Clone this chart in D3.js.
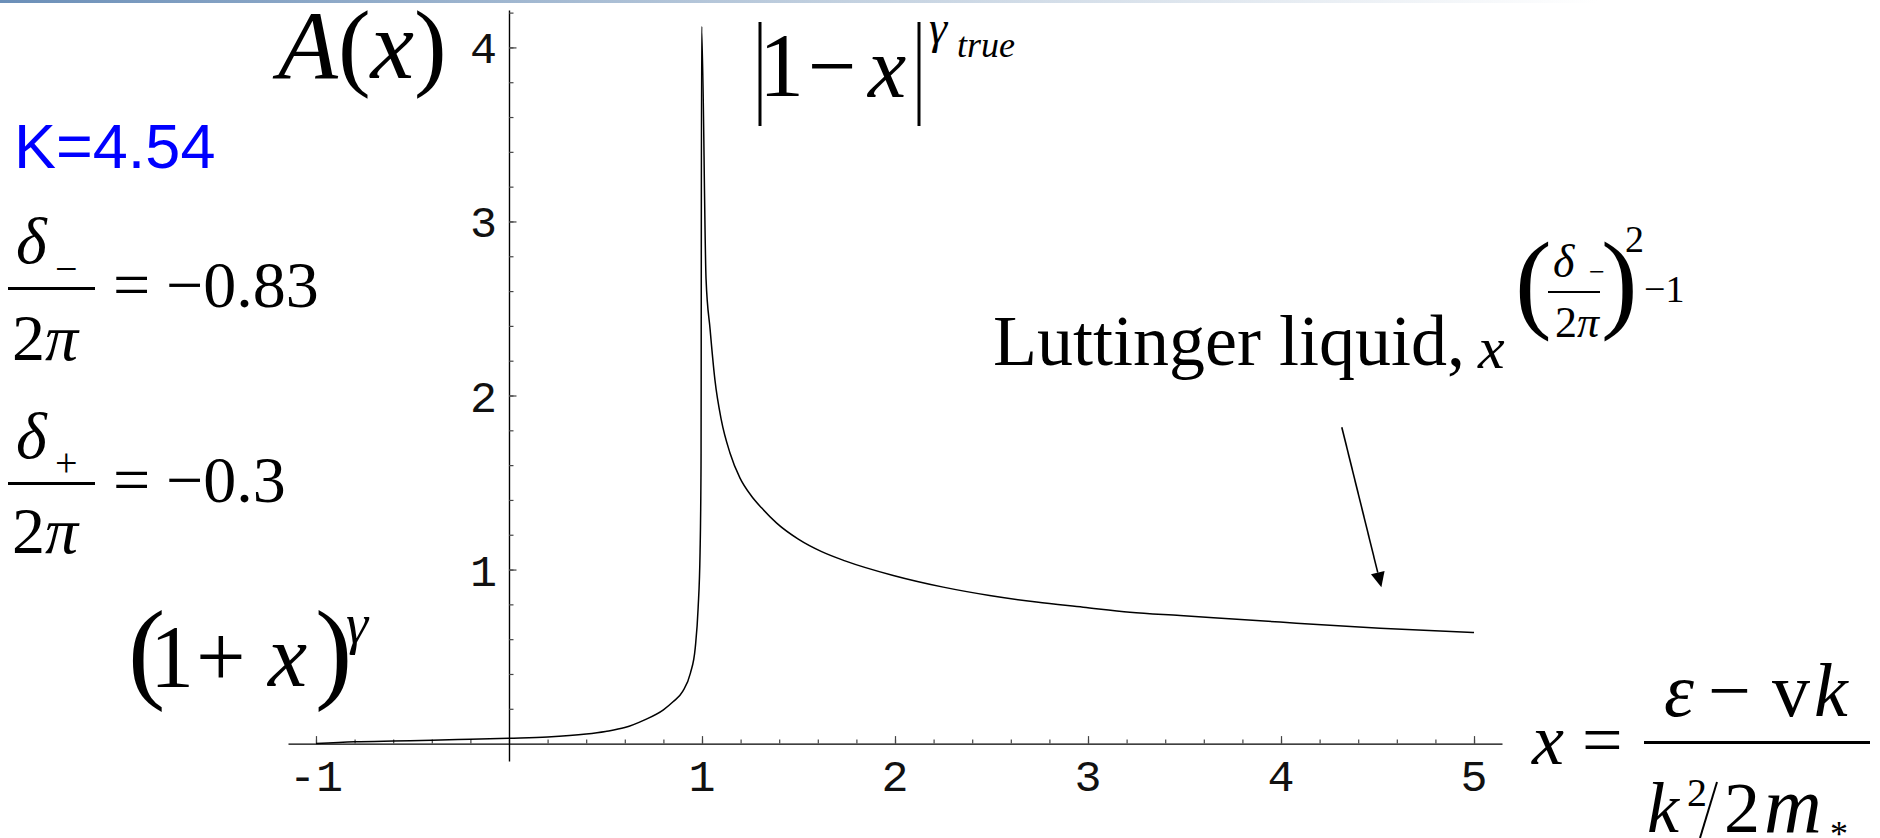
<!DOCTYPE html>
<html>
<head>
<meta charset="utf-8">
<script src="https://cdn.jsdelivr.net/npm/d3@7"></script>
<style>
body { margin: 0; background: #fff; }
svg { display: block; }
.mono { font-family: "Liberation Mono", "DejaVu Sans Mono", monospace; fill: #111; }
.math { font-family: "Liberation Serif", "DejaVu Serif", serif; fill: #000; }
</style>
</head>
<body>
<svg id="chart" width="1880" height="838"></svg>
<script>
// A(x): left branch (1+x)^gamma up to the spike at x = 1
var leftX = [-1, -0.8, -0.6, -0.4, -0.2, 0, 0.2, 0.4, 0.5, 0.6, 0.7, 0.8, 0.85, 0.9, 0.94, 0.965, 0.98, 0.99, 0.995, 0.998];
var leftA = [0, 0.010, 0.015, 0.019, 0.025, 0.031, 0.038, 0.055, 0.07, 0.092, 0.135, 0.194, 0.24, 0.30, 0.405, 0.55, 0.78, 1.1, 1.6, 4.12];
// right branch, Luttinger tail
var rightX = [1.021, 1.042, 1.067, 1.10, 1.145, 1.197, 1.258, 1.31, 1.387, 1.499, 1.62, 1.741, 1.991, 2.25, 2.49, 2.733, 2.975, 3.217, 3.477, 3.995, 4.513, 5.0];
var rightA = [2.67, 2.38, 2.09, 1.86, 1.67, 1.525, 1.42, 1.353, 1.267, 1.175, 1.103, 1.05, 0.966, 0.899, 0.851, 0.813, 0.784, 0.755, 0.736, 0.698, 0.663, 0.638];

var xMajor = [-1, 1, 2, 3, 4, 5];
var yMajor = [1, 2, 3, 4];
var xMinor = d3.range(-10, 51, 2).map(function (d) { return d / 10; });
var yMinor = d3.range(2, 43, 2).map(function (d) { return d / 10; });

// arrow of the "Luttinger liquid" label, in data units: [start, tip]
var arrowX = [4.315, 4.52];
var arrowA = [1.818, 0.899];

var svg = d3.select("#chart");

// thin slide header strip
var grad = svg.append("defs").append("linearGradient").attr("id", "topbar");
grad.append("stop").attr("offset", "0").attr("stop-color", "#6b8fb8");
grad.append("stop").attr("offset", "0.45").attr("stop-color", "#c3d1e0");
grad.append("stop").attr("offset", "0.85").attr("stop-color", "#ffffff");
svg.append("rect").attr("x", 0).attr("y", 0).attr("width", 1880).attr("height", 3)
    .attr("fill", "url(#topbar)");

var x = d3.scaleLinear().domain([-1.145, 5.145]).range([288, 1502]);
var y = d3.scaleLinear().domain([-0.1, 4.215]).range([761, 10]);

/**
 * axes through the origin, ticks on the inner side
 */
var gx = svg.append("g").attr("transform", "translate(0," + y(0) + ")");
gx.call(d3.axisTop(x).tickValues(xMinor).tickSize(4).tickSizeOuter(0).tickFormat(""));
var gx2 = svg.append("g").attr("transform", "translate(0," + y(0) + ")");
gx2.call(d3.axisTop(x).tickValues(xMajor).tickSize(7.5).tickSizeOuter(0).tickFormat(""));
gx2.select(".domain").remove();

var gy = svg.append("g").attr("transform", "translate(" + x(0) + ",0)");
gy.call(d3.axisRight(y).tickValues(yMinor).tickSize(4.5).tickSizeOuter(0).tickFormat(""));
var gy2 = svg.append("g").attr("transform", "translate(" + x(0) + ",0)");
gy2.call(d3.axisRight(y).tickValues(yMajor).tickSize(7.5).tickSizeOuter(0).tickFormat(""));
gy2.select(".domain").remove();

svg.selectAll(".domain").attr("stroke", "#000").attr("stroke-width", 1.4);
svg.selectAll(".tick line").attr("stroke", "#444").attr("stroke-width", 1.2);

svg.selectAll(".xlab")
    .data(xMajor)
    .enter()
    .append("text")
    .attr("class", "mono")
    .attr("x", function (d) { return x(d); })
    .attr("y", y(0) + 47)
    .attr("text-anchor", "middle")
    .attr("font-size", 45)
    .text(function (d) { return String(d); });

svg.selectAll(".ylab")
    .data(yMajor)
    .enter()
    .append("text")
    .attr("class", "mono")
    .attr("x", x(0) - 12)
    .attr("y", function (d) { return y(d) + 16; })
    .attr("text-anchor", "end")
    .attr("font-size", 45)
    .text(function (d) { return String(d); });

// the curve
var pts = leftX.map(function (d, i) { return [d, leftA[i]]; })
    .concat(rightX.map(function (d, i) { return [d, rightA[i]]; }));

var line = d3.line()
    .x(function (d) { return x(d[0]); })
    .y(function (d) { return y(d[1]); })
    .curve(d3.curveMonotoneX);

svg.append("path")
    .datum(pts)
    .attr("d", line)
    .attr("fill", "none")
    .attr("stroke", "#000")
    .attr("stroke-width", 1.5);

// arrow
var ax0 = x(arrowX[0]), ay0 = y(arrowA[0]), ax1 = x(arrowX[1]), ay1 = y(arrowA[1]);
var len = Math.sqrt((ax1 - ax0) * (ax1 - ax0) + (ay1 - ay0) * (ay1 - ay0));
var ux = (ax1 - ax0) / len, uy = (ay1 - ay0) / len;
var bx = ax1 - 15 * ux, by = ay1 - 15 * uy;
svg.append("line").attr("x1", ax0).attr("y1", ay0).attr("x2", bx).attr("y2", by)
    .attr("stroke", "#000").attr("stroke-width", 1.6);
svg.append("polygon")
    .attr("points", [[ax1, ay1], [bx - 7 * uy, by + 7 * ux], [bx + 7 * uy, by - 7 * ux]].join(" "))
    .attr("fill", "#000");

/**
 * math labels
 */
function mt(px, py, size, str, italic) {
    return svg.append("text").attr("class", "math")
        .attr("x", px).attr("y", py)
        .attr("font-size", size)
        .attr("font-style", italic ? "italic" : "normal")
        .text(str);
}
function bar(x1, x2, yy, w) {
    svg.append("line").attr("x1", x1).attr("x2", x2).attr("y1", yy).attr("y2", yy)
        .attr("stroke", "#000").attr("stroke-width", w);
}
function vbar(x1, y1, x2, y2, w) {
    svg.append("line").attr("x1", x1).attr("x2", x2).attr("y1", y1).attr("y2", y2)
        .attr("stroke", "#000").attr("stroke-width", w);
}

// A(x)
var ta = mt(278, 78, 98, "", false);
ta.append("tspan").attr("font-style", "italic").text("A");
ta.append("tspan").text("(");
ta.append("tspan").attr("font-style", "italic").text("x");
ta.append("tspan").text(")");

// K=4.54
svg.append("text")
    .attr("x", 14).attr("y", 168)
    .attr("font-family", "'Liberation Sans', Arial, sans-serif")
    .attr("font-size", 63)
    .attr("fill", "#0000ff")
    .text("K=4.54");

// delta_- / 2pi = -0.83
mt(16, 263, 66, "δ", true);
mt(55, 282, 40, "−", false);
bar(8, 95, 288.5, 3);
var d1 = mt(12, 360, 66, "2", false);
d1.append("tspan").attr("font-style", "italic").text("π");
mt(113, 307, 66, "=", false);
mt(166, 307, 66, "−0.83", false);

// delta_+ / 2pi = -0.3
mt(16, 458, 66, "δ", true);
mt(55, 476, 40, "+", false);
bar(8, 95, 483.5, 3);
var d2 = mt(12, 553, 66, "2", false);
d2.append("tspan").attr("font-style", "italic").text("π");
mt(113, 502, 66, "=", false);
mt(166, 502, 66, "−0.3", false);

// (1+x)^gamma
mt(128, 688, 112, "(", false);
mt(150, 686, 88, "1", false);
mt(196, 686, 88, "+", false);
mt(268, 686, 88, "x", true);
mt(315, 688, 112, ")", false);
mt(346, 643, 56, "γ", true);

// |1-x|^gamma_true
vbar(760, 22, 760, 126, 3);
vbar(919, 22, 919, 126, 3);
mt(759, 96, 90, "1", false);
mt(808, 95, 86, "−", false);
mt(868, 97, 86, "x", true);
mt(929, 43, 46, "γ", true);
mt(957, 57, 36, "true", true);

// Luttinger liquid, x^((delta_-/2pi)^2 - 1)
mt(993, 365, 72, "Luttinger liquid,", false);
mt(1478, 368, 60, "x", true);
mt(1515, 318, 110, "(", false);
mt(1553, 277, 46, "δ", true);
mt(1589, 281, 28, "−", false);
bar(1548, 1600, 292, 2);
var d3t = mt(1555, 337, 44, "2", false);
d3t.append("tspan").attr("font-style", "italic").text("π");
mt(1601, 318, 110, ")", false);
mt(1625, 252, 38, "2", false);
mt(1644, 302, 38, "−1", false);

// x = (eps - v k) / (k^2 / 2m*)
mt(1532, 764, 72, "x", true);
mt(1582, 764, 72, "=", false);
bar(1644, 1870, 742.5, 3);
mt(1664, 716, 76, "ε", true);
mt(1708, 716, 76, "−", false);
mt(1772, 716, 76, "v", false);
mt(1814, 716, 76, "k", true);
mt(1647, 832, 72, "k", true);
mt(1687, 806, 40, "2", false);
vbar(1717, 782, 1700, 838, 2);
mt(1724, 832, 72, "2", false);
mt(1764, 832, 80, "m", true);
mt(1830, 846, 36, "*", false);
</script>
</body>
</html>
